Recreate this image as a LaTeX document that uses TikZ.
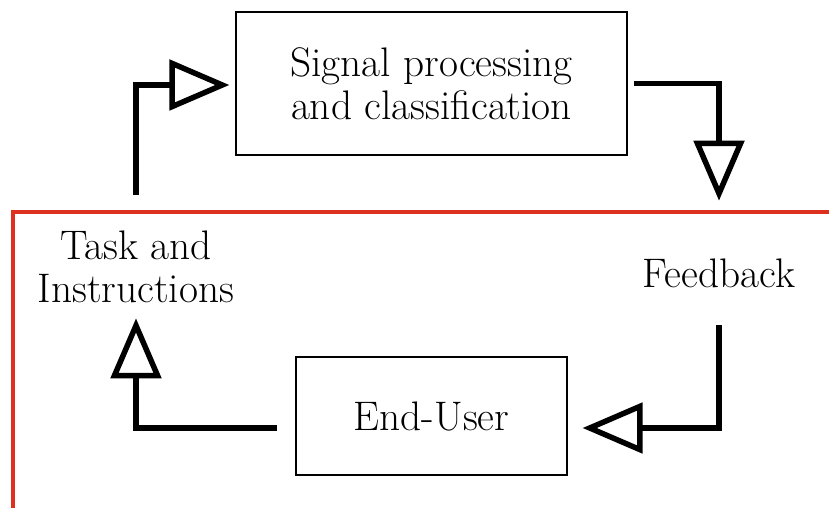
\documentclass[tikz,border=0pt]{standalone}
\usepackage{xcolor}
\usetikzlibrary{arrows.meta}

\definecolor{divred}{RGB}{222,48,30}

\tikzset{
  box/.style={draw, line width=0.7pt, align=center, inner sep=0pt},
  lbl/.style={align=center, inner sep=0pt},
  flow/.style={line width=0.11cm, -{Triangle[open, length=1.2cm, width=1.0cm]}}
}

\begin{document}
\begin{tikzpicture}[font=\fontsize{23.5}{24.5}\selectfont]
\useasboundingbox (0,0) rectangle (16.58,10.16);

% red divider
\draw[divred, line width=0.08cm] (16.58,5.92)--(0.26,5.92)--(0.26,0);

\node[box, minimum width=7.82cm, minimum height=2.86cm] (sigproc) at (8.63,8.49) {Signal processing\\and classification};
\node[box, minimum width=5.42cm, minimum height=2.36cm] (enduser) at (8.63,1.84) {End-User};
\node[lbl] (task) at (2.72,4.82) {Task and\\Instructions};
\node[lbl] (feedback) at (14.38,4.7) {Feedback};

\draw[flow, shorten <=0.71cm, shorten >=0.12cm] (task.north) |- ([yshift=-0.03cm]sigproc.west);
\draw[flow, shorten <=0.12cm, shorten >=1.15cm] (sigproc.east) -| (feedback.north);
\draw[flow, shorten <=0.75cm, shorten >=0.3cm] (feedback.south) |- ([yshift=-0.24cm]enduser.east);
\draw[flow, shorten <=0.36cm, shorten >=0.3cm] ([yshift=-0.24cm]enduser.west) -| (task.south);
\end{tikzpicture}
\end{document}
